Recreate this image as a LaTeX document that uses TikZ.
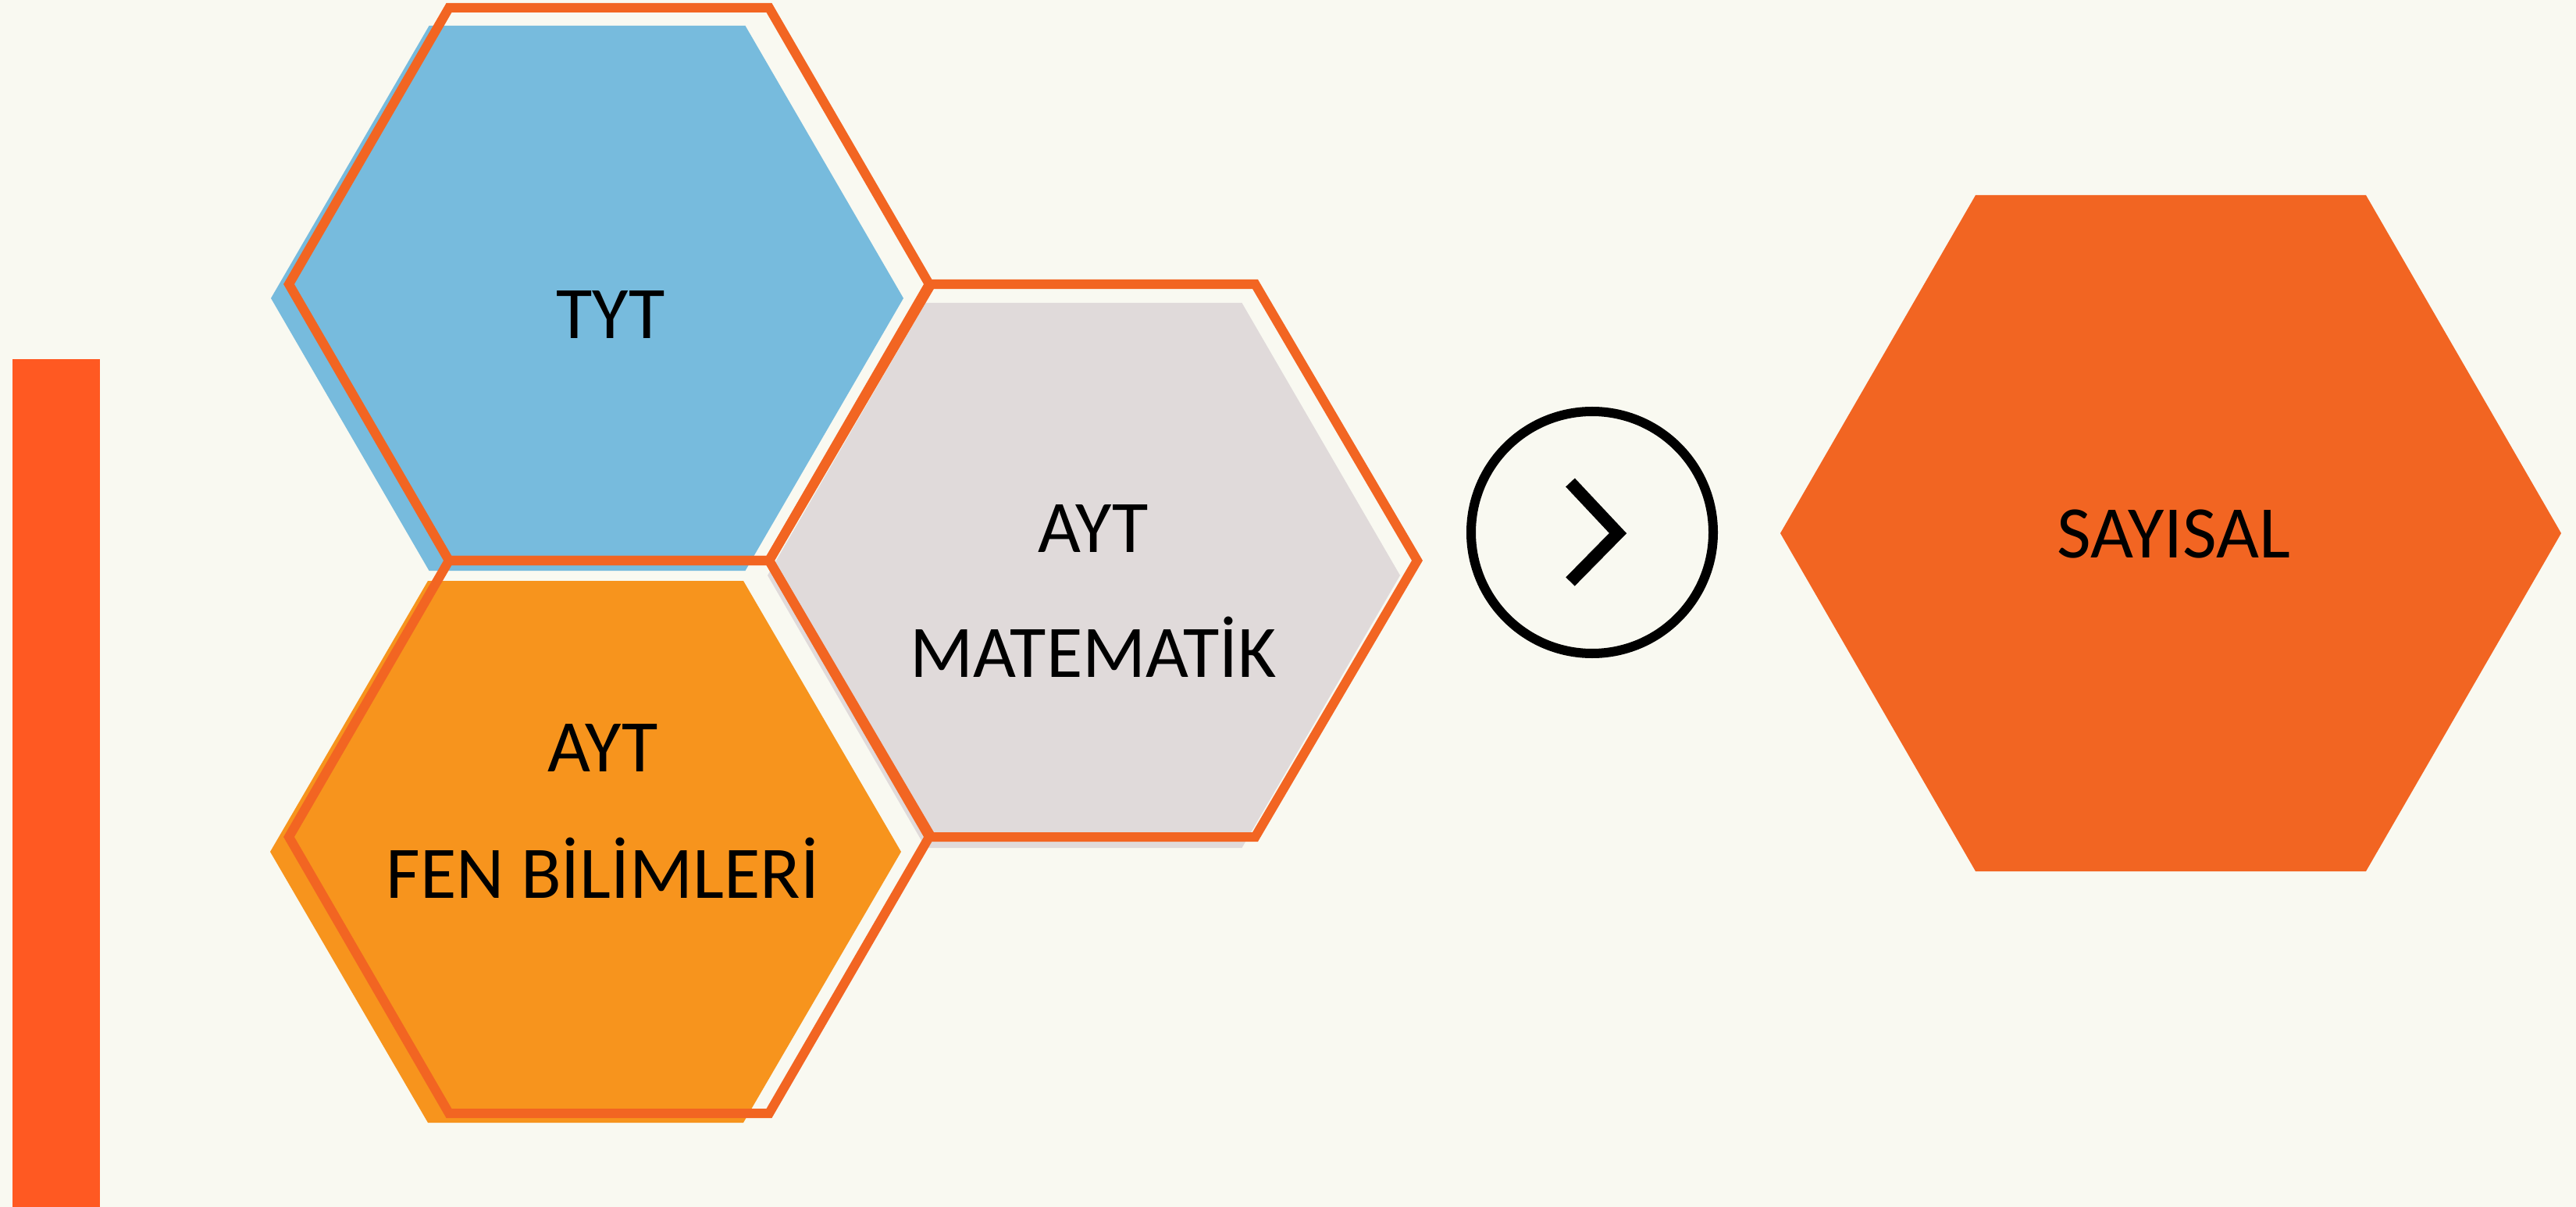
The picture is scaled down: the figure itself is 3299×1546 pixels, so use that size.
\documentclass[tikz,border=0pt]{standalone}
\usepackage{fontspec}
\setmainfont{Carlito}
\usetikzlibrary{positioning, calc}
\definecolor{bgcream}{HTML}{F9F9F1}
\definecolor{barred}{HTML}{FF5922}
\definecolor{hexorange}{HTML}{F26522}
\definecolor{tytblue}{HTML}{77BBDD}
\definecolor{fenorange}{HTML}{F7941D}
\definecolor{matgray}{HTML}{E0DADA}
\newcommand{\hexat}[4]{({#1-#3},#2)--({#1-#3/2},{#2-#4})--({#1+#3/2},{#2-#4})--({#1+#3},#2)--({#1+#3/2},{#2+#4})--({#1-#3/2},{#2+#4})--cycle}
\tikzset{hexline/.style={draw=hexorange,line width=0.12cm},
    hexlabel/.style={font=\fontsize{27}{46}\selectfont,inner sep=0pt,anchor=base}}

\begin{document}
\begin{tikzpicture}[x=0.01cm,y=-0.01cm]
            \fill[bgcream] (0,0) rectangle (3299,1546);
            \useasboundingbox (0,0) rectangle (3299,1546);
            \fill[barred] (16,460) rectangle (128,1546);
            \fill[tytblue] \hexat{752}{382}{405}{349};
            \fill[fenorange] \hexat{750}{1091}{404}{347};
            \fill[matgray] \hexat{1388}{737}{405}{349};
            \draw[hexline] \hexat{780}{364}{410}{354};
            \draw[hexline] \hexat{780}{1072}{410}{354};
            \draw[hexline] \hexat{1400}{718}{415}{354};
            \node[hexlabel] (tyt) at (782,434) {TYT};
            \node[hexlabel] (fenayt) at (772,988) {AYT};
            \node[hexlabel] (fen) at (772,1150) {FEN BİLİMLERİ};
            \node[hexlabel] (matayt) at (1400,707) {AYT};
            \node[hexlabel] (mat) at (1400,867) {MATEMATİK};
            \draw[line width=0.12cm] (2039,682) circle(155);
            \draw[line width=0.16cm] (2011,618)--(2072,683)--(2011,745);
            \fill[hexorange] \hexat{2780}{683}{500}{433};
            \node[hexlabel] (sayisal) at (2784,714) {SAYISAL};
        \end{tikzpicture}
\end{document}
